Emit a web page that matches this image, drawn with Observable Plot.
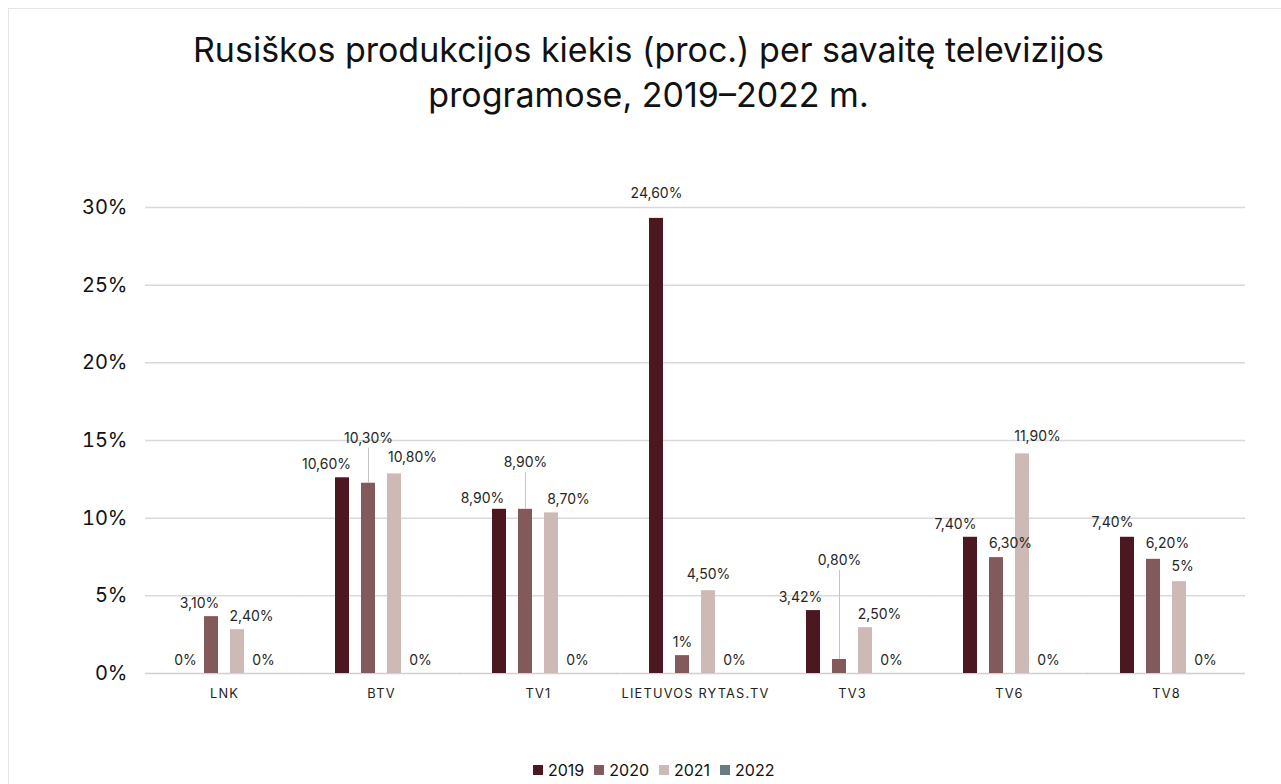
<!DOCTYPE html>
<html>
<head>
<meta charset="utf-8">
<script src="https://cdn.jsdelivr.net/npm/d3@7"></script>
<script src="https://cdn.jsdelivr.net/npm/@observablehq/plot@0.6"></script>
<style>
  html, body { margin: 0; padding: 0; background: #fff; }
  body { width: 1281px; height: 784px; position: relative; overflow: hidden; font-family: Inter, "Noto Sans", sans-serif; }
  #frame { position: absolute; left: 8px; top: 8px; width: 1300px; height: 820px; border: 1.5px solid #e9e5e5; box-sizing: border-box; }
  #title { position: absolute; left: 8px; width: 1281px; top: 27px; text-align: center; font-size: 34px; line-height: 45px; color: #111; font-weight: 400; }
  #chart { position: absolute; left: 0; top: 0; }
  #legend { position: absolute; left: 533px; top: 760px; display: flex; align-items: center; font-size: 16px; color: #111; }
  #legend .item { display: flex; align-items: center; margin-right: 10px; }
  #legend .sw { width: 10px; height: 10px; margin-right: 5px; }
  g[aria-label="fx-axis tick label"] text { letter-spacing: 1.2px; }
</style>
</head>
<body>
<div id="frame"></div>
<div id="title">Rusiškos produkcijos kiekis (proc.) per savaitę televizijos<br>programose, 2019–2022 m.</div>
<div id="chart"></div>
<div id="legend"></div>
<script>
// ---- data ----
const channels = ["LNK", "BTV", "TV1", "LIETUVOS RYTAS.TV", "TV3", "TV6", "TV8"];
const years = ["2019", "2020", "2021", "2022"];
// bar heights as drawn on the chart's axis (%)
const bars2019 = [0, 12.6, 10.57, 29.3, 4.05, 8.77, 8.77];
const bars2020 = [3.66, 12.25, 10.57, 1.15, 0.9, 7.46, 7.35];
const bars2021 = [2.82, 12.85, 10.34, 5.33, 2.95, 14.14, 5.91];
const bars2022 = [0, 0, 0, 0, 0, 0, 0];
// data labels printed on the chart
const labels2019 = ["0%", "10,60%", "8,90%", "24,60%", "3,42%", "7,40%", "7,40%"];
const labels2020 = ["3,10%", "10,30%", "8,90%", "1%", "0,80%", "6,30%", "6,20%"];
const labels2021 = ["2,40%", "10,80%", "8,70%", "4,50%", "2,50%", "11,90%", "5%"];
const labels2022 = ["0%", "0%", "0%", "0%", "0%", "0%", "0%"];
const yTicks = [0, 5, 10, 15, 20, 25, 30];
const colors = ["#4b1821", "#835a5b", "#cdb9b6", "#6b7b82"];

// ---- label layout (pixel nudges, [dx, dy]) ----
const nudge2019 = [[0, 0], [-16, 0], [-17, 2], [0, -12], [-13, 0], [-15, 0], [-15, -2]];
const nudge2020 = [[-12, 0], [0, -32], [0, -34], [0, 0], [0, -86], [14, -1], [14, -3]];
const nudge2021 = [[14, 0], [18, -3], [17, 0], [0, -3], [14, 0], [15, -4], [3, -2]];
const nudge2022 = [[0, 0], [0, 0], [0, 0], [0, 0], [0, 0], [0, 0], [0, 0]];
const leaders = [["BTV", "2020"], ["TV1", "2020"], ["TV3", "2020"]];

const barSets = [bars2019, bars2020, bars2021, bars2022];
const labelSets = [labels2019, labels2020, labels2021, labels2022];
const nudgeSets = [nudge2019, nudge2020, nudge2021, nudge2022];

const rows = [];
years.forEach((yr, j) => channels.forEach((ch, i) => rows.push({
  channel: ch, year: yr, value: barSets[j][i], label: labelSets[j][i],
  dx: nudgeSets[j][i][0], dy: nudgeSets[j][i][1]
})));

const baseDy = -13;
const labelMarks = rows.map(r => Plot.text([r], {
  fx: "channel", x: "year", y: "value", text: "label",
  dx: r.dx, dy: baseDy + r.dy, fontSize: 14, fill: "#262626", fontFamily: "Inter"
}));
const leaderMarks = rows.filter(r => leaders.some(([c, y]) => c === r.channel && y === r.year))
  .map(r => Plot.ruleX([r], {
    fx: "channel", x: "year", y1: "value", y2: "value",
    insetTop: baseDy + r.dy + 10, stroke: "#c4c4c4", strokeWidth: 1
  }));

const chart = Plot.plot({
  width: 1281,
  height: 720,
  marginLeft: 143,
  marginRight: 33,
  marginTop: 207,
  marginBottom: 47,
  style: { fontFamily: "Inter", background: "transparent", overflow: "visible" },
  fx: { domain: channels, paddingInner: 0.324, paddingOuter: 0.162, label: null },
  x: { domain: years, paddingInner: 0.475, paddingOuter: 0.2375, axis: null },
  y: { domain: [0, 30], label: null, axis: null },
  color: { domain: years, range: colors },
  marks: [
    Plot.ruleY(yTicks.filter(d => d > 0), { y: d => d, stroke: "#d9d9d9", strokeWidth: 1.5, insetLeft: -26, insetRight: -26 }),
    Plot.ruleY([0], { y: d => d, stroke: "#d0d0d0", strokeWidth: 1.5, insetLeft: -26, insetRight: -26 }),
    Plot.barY(rows, { fx: "channel", x: "year", y: "value", fill: "year" }),
    ...leaderMarks,
    ...labelMarks,
    Plot.axisY({ ticks: yTicks, tickFormat: d => d + "%", tickSize: 0, tickPadding: 0, dx: -44, fontSize: 20, fill: "#111", label: null }),
    Plot.axisFx({ anchor: "bottom", tickSize: 0, tickPadding: 15, fontSize: 12.8, fill: "#222", label: null })
  ]
});
document.getElementById("chart").appendChild(chart);

// legend
const legend = document.getElementById("legend");
years.forEach((yr, j) => {
  const it = document.createElement("div");
  it.className = "item";
  const sw = document.createElement("div");
  sw.className = "sw";
  sw.style.background = colors[j];
  const t = document.createElement("span");
  t.textContent = yr;
  it.appendChild(sw); it.appendChild(t);
  legend.appendChild(it);
});
</script>
</body>
</html>
